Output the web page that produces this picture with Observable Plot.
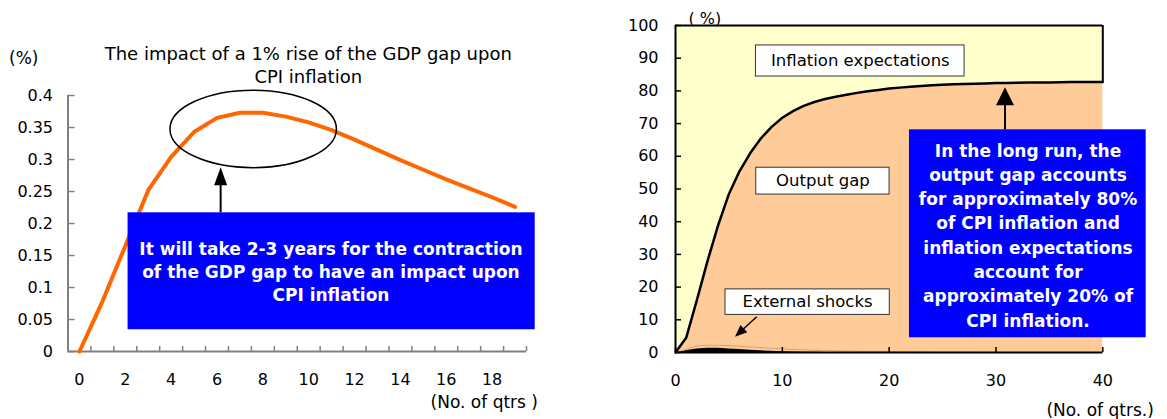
<!DOCTYPE html>
<html>
<head>
<meta charset="utf-8">
<script src="https://cdn.jsdelivr.net/npm/d3@7"></script>
<script src="https://cdn.jsdelivr.net/npm/@observablehq/plot@0.6"></script>
<style>
  body { margin: 0; background: #fff; }
  #wrap { position: relative; width: 1167px; height: 419px; overflow: hidden; color: #000; font-family: "DejaVu Sans", sans-serif; }
  #wrap svg { position: absolute; top: 0; }
</style>
</head>
<body>
<div id="wrap"></div>
<script>
// ---- Left panel: CPI response to a 1% rise of the GDP gap (quarters after the shock) ----
const qtrs = [0, 1, 2, 3, 4, 5, 6, 7, 8, 9, 10, 11, 12, 13, 14, 15, 16, 17, 18, 19];
const impact = [0, 0.078, 0.165, 0.252, 0.304, 0.343, 0.365, 0.373, 0.373, 0.367,
                0.358, 0.346, 0.331, 0.315, 0.299, 0.284, 0.269, 0.255, 0.241, 0.226];
const qtrTickValues = [0, 2, 4, 6, 8, 10, 12, 14, 16, 18];
const impactTicks = [0, 0.05, 0.1, 0.15, 0.2, 0.25, 0.3, 0.35, 0.4];
const impactTickLabels = ["0", "0.05", "0.1", "0.15", "0.2", "0.25", "0.3", "0.35", "0.4"];

// ---- Right panel: shares of CPI inflation (%) by horizon ----
const horizon = [0, 1, 2, 3, 4, 5, 6, 7, 8, 9, 10, 11, 12, 13, 14, 15, 16, 17, 18, 19, 20,
                 21, 22, 23, 24, 25, 26, 27, 28, 29, 30, 31, 32, 33, 34, 35, 36, 37, 38, 39, 40];
// upper edge of the output-gap band (external shocks + output gap)
const outputGapTop = [0, 4.5, 16, 28, 39, 48.5, 55.5, 61, 65.5, 69, 71.8, 73.8, 75.4, 76.6, 77.5, 78.2,
                      78.8, 79.4, 79.9, 80.3, 80.7, 81.0, 81.3, 81.5, 81.7, 81.9, 82.0, 82.1, 82.2,
                      82.3, 82.4, 82.45, 82.5, 82.55, 82.6, 82.6, 82.65, 82.7, 82.7, 82.75, 82.75];
const externalShocks = [0, 0.5, 1.1, 1.3, 1.3, 1.1, 0.9, 0.7, 0.5, 0.35, 0.25, 0.15, 0.1, 0.05, 0.03,
                        0, 0, 0, 0, 0, 0, 0, 0, 0, 0, 0, 0, 0, 0, 0, 0, 0, 0, 0, 0, 0, 0, 0, 0, 0, 0];
const shockEdge = [0, 1.0, 2.0, 2.2, 2.2, 2.1, 1.9, 1.7, 1.5, 1.3, 1.1, 0.95, 0.8, 0.7, 0.6, 0.5,
                   0.45, 0.4, 0.35, 0.3, 0.25, 0.2, 0.2, 0.15, 0.15, 0.1, 0.1, 0.1, 0.05, 0.05, 0.05,
                   0, 0, 0, 0, 0, 0, 0, 0, 0, 0];
const horizonTicks = [0, 10, 20, 30, 40];
const shareTicks = [0, 10, 20, 30, 40, 50, 60, 70, 80, 90, 100];

// ---- Text ----
const leftTitle = "The impact of a 1% rise of the GDP gap upon\nCPI inflation";
const leftNote = "It will take 2-3 years for the contraction\nof the GDP gap to have an impact upon\nCPI inflation";
const rightNote = "In the long run, the\noutput gap accounts\nfor approximately 80%\nof CPI inflation and\ninflation expectations\naccount for\napproximately 20% of\nCPI inflation.";

const SVGNS = "http://www.w3.org/2000/svg";

// outlined ellipse placed in data units
function ellipseMark(cx, cy, rx, ry) {
  return (index, {x, y}) => {
    const e = document.createElementNS(SVGNS, "ellipse");
    e.setAttribute("cx", x(cx));
    e.setAttribute("cy", y(cy));
    e.setAttribute("rx", Math.abs(x(cx + rx) - x(cx)));
    e.setAttribute("ry", Math.abs(y(cy + ry) - y(cy)));
    e.setAttribute("fill", "none");
    e.setAttribute("stroke", "#000");
    e.setAttribute("stroke-width", 1.5);
    return e;
  };
}

// arrow with a filled triangular head, from (xa,ya) to (xb,yb) in data units
function arrowMark(xa, ya, xb, yb, headW, headL, width) {
  return (index, {x, y}) => {
    const x1 = x(xa), y1 = y(ya), x2 = x(xb), y2 = y(yb);
    const len = Math.hypot(x2 - x1, y2 - y1);
    const ux = (x2 - x1) / len, uy = (y2 - y1) / len;
    const bx = x2 - ux * headL, by = y2 - uy * headL;
    const px = -uy * headW / 2, py = ux * headW / 2;
    const g = document.createElementNS(SVGNS, "g");
    const l = document.createElementNS(SVGNS, "line");
    l.setAttribute("x1", x1); l.setAttribute("y1", y1);
    l.setAttribute("x2", bx + ux); l.setAttribute("y2", by + uy);
    l.setAttribute("stroke", "#000"); l.setAttribute("stroke-width", width);
    const p = document.createElementNS(SVGNS, "polygon");
    p.setAttribute("points", `${x2},${y2} ${bx + px},${by + py} ${bx - px},${by - py}`);
    p.setAttribute("fill", "#000");
    g.append(l, p);
    return g;
  };
}

const baseStyle = {fontFamily: "DejaVu Sans, sans-serif", fontSize: "16px", background: "transparent", color: "#000", overflow: "visible"};

// ================= Left panel =================
const impactRows = qtrs.map((q, i) => ({q, v: impact[i]}));
const catBounds = qtrs.map(q => q - 0.5).concat([qtrs[qtrs.length - 1] + 0.5]);
const xLo = catBounds[0], xHi = catBounds[catBounds.length - 1];
const LW = 560, LH = 419, lml = 67.5, lmr = 34, lmt = 95, lmb = 68;
const qPerPx = (xHi - xLo) / (LW - lml - lmr);
const vPerPx = 0.4 / (LH - lmt - lmb);
const axisGray = "#808080";

const left = Plot.plot({
  width: LW, height: LH,
  marginLeft: lml, marginRight: lmr, marginTop: lmt, marginBottom: lmb,
  style: baseStyle,
  x: {type: "linear", domain: [xLo, xHi], label: null},
  y: {domain: [0, 0.4], label: null},
  marks: [
    // inward ticks
    Plot.ruleY(impactTicks, {x1: xLo, x2: xLo + 7 * qPerPx, stroke: axisGray, strokeWidth: 1.5}),
    Plot.ruleX(catBounds, {y1: 0, y2: 5 * vPerPx, stroke: axisGray, strokeWidth: 1.5}),
    // axis lines
    Plot.ruleX([xLo], {y1: 0, y2: 0.4, stroke: axisGray, strokeWidth: 2}),
    Plot.ruleY([0], {x1: xLo, x2: xHi, stroke: axisGray, strokeWidth: 2}),
    Plot.axisY(impactTicks, {tickSize: 0, tickPadding: 15, fontSize: 16, label: null,
      tickFormat: d => impactTickLabels[impactTicks.indexOf(d)]}),
    Plot.axisX(qtrTickValues, {tickSize: 0, tickPadding: 22, fontSize: 16, label: null}),
    // response line
    Plot.line(impactRows, {x: "q", y: "v", stroke: "#FF6600", strokeWidth: 4, strokeLinejoin: "round"}),
    // annotations
    ellipseMark(7.6, 0.347, 3.63, 0.0605),
    Plot.rect([0], {x1: 2.12, x2: 19.88, y1: 0.034, y2: 0.2167, fill: "#0000FF"}),
    Plot.text([leftNote], {x: 10.97, y: 0.1266, text: d => d, fill: "#fff", fontWeight: "bold",
      fontSize: 17, lineHeight: 1.37}),
    arrowMark(6.18, 0.2167, 6.18, 0.287, 13, 18, 2),
    // titles and unit labels
    Plot.text([leftTitle], {frameAnchor: "top", lineAnchor: "middle", dx: 11, dy: -31.5, text: d => d,
      fontSize: 18, lineHeight: 1.3}),
    Plot.text(["(%)"], {frameAnchor: "top-left", lineAnchor: "middle", dx: -59, dy: -37, text: d => d,
      textAnchor: "start", fontSize: 17}),
    Plot.text(["(No. of qtrs )"], {frameAnchor: "bottom-right", lineAnchor: "middle", dx: 11.5, dy: 51,
      text: d => d, textAnchor: "end", fontSize: 17})
  ]
});

// ================= Right panel =================
const shareRows = horizon.map((t, i) => ({t, g: outputGapTop[i], s: externalShocks[i], e: shockEdge[i]}));
const RW = 567, RH = 419, rml = 75, rmr = 64.7, rmt = 25, rmb = 67;
const tPerPx = 40 / (RW - rml - rmr);
const pPerPx = 100 / (RH - rmt - rmb);
const lastGap = outputGapTop[outputGapTop.length - 1];

const labelBox = (x1, x2, y1, y2) =>
  Plot.rect([0], {x1, x2, y1, y2, fill: "#fff", stroke: "#333", strokeWidth: 1});

const right = Plot.plot({
  width: RW, height: RH,
  marginLeft: rml, marginRight: rmr, marginTop: rmt, marginBottom: rmb,
  style: baseStyle,
  x: {domain: [0, 40], label: null},
  y: {domain: [0, 100], label: null},
  marks: [
    // stacked shares
    Plot.areaY(shareRows, {x: "t", y1: "g", y2: 100, fill: "#FFFFCC"}),
    Plot.areaY(shareRows, {x: "t", y1: 0, y2: "g", fill: "#FFCC99"}),
    Plot.areaY(shareRows, {x: "t", y1: 0, y2: "s", fill: "#000"}),
    Plot.line(shareRows, {x: "t", y: "e", stroke: "#D6A273", strokeWidth: 1}),
    Plot.line(shareRows, {x: "t", y: "g", stroke: "#000", strokeWidth: 2.5, strokeLinejoin: "round"}),
    // border of the expectations band
    Plot.ruleY([100], {x1: 0, x2: 40, stroke: "#000", strokeWidth: 2}),
    Plot.ruleX([40], {y1: lastGap, y2: 100, stroke: "#000", strokeWidth: 2}),
    // inward ticks
    Plot.ruleY(shareTicks, {x1: 0, x2: 6 * tPerPx, stroke: "#000", strokeWidth: 1.5}),
    Plot.ruleX(horizonTicks, {y1: 0, y2: 5 * pPerPx, stroke: "#000", strokeWidth: 1.5}),
    // axis lines
    Plot.ruleX([0], {y1: 0, y2: 100, stroke: "#000", strokeWidth: 2}),
    Plot.ruleY([0], {x1: 0, x2: 40, stroke: "#000", strokeWidth: 2}),
    Plot.axisY(shareTicks, {tickSize: 0, tickPadding: 17, fontSize: 16, label: null}),
    Plot.axisX(horizonTicks, {tickSize: 0, tickPadding: 22, fontSize: 16, label: null}),
    // series labels
    labelBox(7.53, 27.06, 84.4, 93.9),
    Plot.text(["Inflation expectations"], {x: 17.3, y: 89.1, text: d => d, fontSize: 16.5}),
    labelBox(7.56, 20.04, 48.3, 56.5),
    Plot.text(["Output gap"], {x: 13.8, y: 52.4, text: d => d, fontSize: 16.5}),
    labelBox(4.68, 20.06, 11.5, 19.3),
    Plot.text(["External shocks"], {x: 12.36, y: 15.4, text: d => d, fontSize: 16.5}),
    arrowMark(7.65, 10.8, 5.62, 4.68, 10, 12, 1.5),
    // long-run note
    Plot.rect([0], {x1: 21.9, x2: 44.06, y1: 4.5, y2: 68.1, fill: "#0000FF"}),
    Plot.text([rightNote], {x: 33.0, y: 36.3, text: d => d, fill: "#fff", fontWeight: "bold",
      fontSize: 17, lineHeight: 1.43}),
    arrowMark(30.89, 68.1, 30.89, 81.0, 18, 18, 2),
    // unit labels
    Plot.text(["( %)"], {frameAnchor: "top-left", lineAnchor: "middle", dx: 13, dy: -7, text: d => d,
      textAnchor: "start", fontSize: 16}),
    Plot.text(["(No. of qtrs.)"], {frameAnchor: "bottom-right", lineAnchor: "middle", dx: 51, dy: 58,
      text: d => d, textAnchor: "end", fontSize: 17})
  ]
});

left.style.left = "0px";
right.style.left = "600px";
document.getElementById("wrap").append(left, right);
</script>
</body>
</html>
